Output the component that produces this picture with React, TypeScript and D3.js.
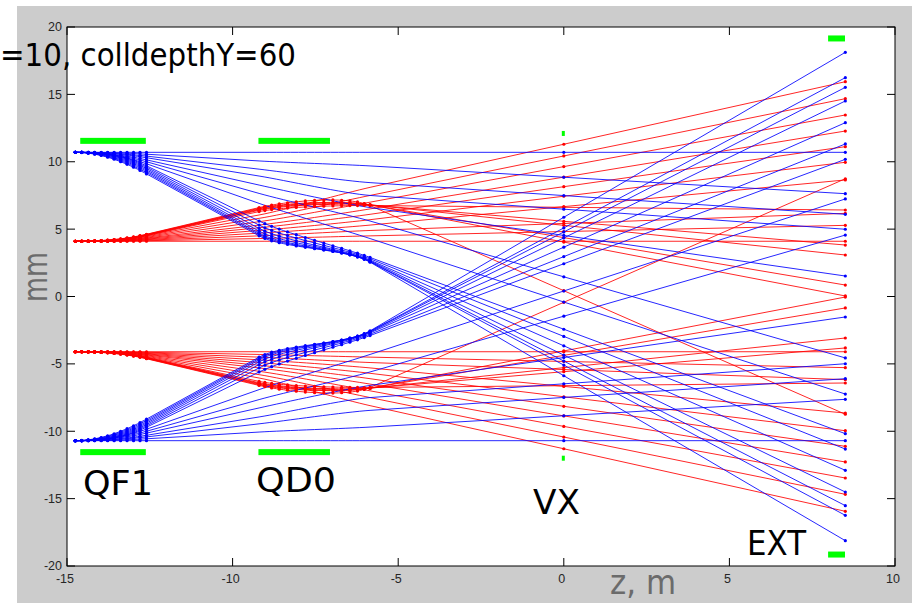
import React from "react";
import * as d3 from "d3";

const W = 912;
const H = 603;

// beamline positions (m)
const zStart = -14.75;
const zQF1out = -12.6;
const zQD0in = -9.2;
const zQD0out = -5.85;
const zVX = 0;
const zEXT = 8.5;

const xTicks = [-15, -10, -5, 0, 5, 10];
const yTicks = [-20, -15, -10, -5, 0, 5, 10, 15, 20];

const blueStart = 10.7;
const redStart = 4.1;

// blue rays starting at +10.7 mm: y (mm) at QF1 exit, QD0 entry, QD0 exit, VX, EXT
const blueUpQF1 = [10.7, 10.56, 10.42, 10.3, 10.14, 10.0, 9.85, 9.7, 9.6, 9.5, 9.4, 9.3, 9.2, 9.1];
const blueUpQD0in = [10.7, 10.06, 9.45, 8.94, 8.27, 7.65, 6.91, 5.6, 5.3, 5.05, 4.85, 4.7, 4.6, 4.5];
const blueUpQD0out = [10.7, 9.69, 8.45, 7.5, 6.6, 5.6, 4.3, 2.9, 2.8, 2.7, 2.65, 2.6, 2.58, 2.55];
const blueUpVX = [10.7, 8.85, 7.49, 6.48, 4.53, 1.46, -0.41, -2.43, -2.96, -3.66, -4.35, -4.79, -5.09, -5.88];
const blueUpEXT = [10.7, 7.63, 6.1, 4.99, 1.52, -4.56, -7.24, -10.18, -11.32, -12.9, -14.51, -15.52, -16.24, -18.12];

// blue rays starting at -10.7 mm
const blueLoQF1 = [-10.7, -10.56, -10.42, -10.3, -10.14, -10.0, -9.85, -9.7, -9.6, -9.5, -9.4, -9.3, -9.2, -9.1];
const blueLoQD0in = [-10.7, -10.06, -9.45, -8.94, -8.27, -7.65, -6.91, -5.6, -5.3, -5.05, -4.85, -4.7, -4.6, -4.5];
const blueLoQD0out = [-10.7, -9.69, -8.45, -7.5, -6.6, -5.6, -4.3, -2.9, -2.8, -2.7, -2.65, -2.6, -2.58, -2.55];
const blueLoVX = [-10.7, -8.85, -7.49, -6.48, -4.53, -1.46, 0.41, 2.43, 2.96, 3.66, 4.35, 4.79, 5.09, 5.88];
const blueLoEXT = [-10.7, -7.63, -6.1, -4.99, -1.52, 4.56, 7.24, 10.18, 11.32, 12.9, 14.51, 15.52, 16.24, 18.12];

// red rays starting at +4.1 mm
const redUpQF1 = [4.1, 4.14, 4.18, 4.22, 4.26, 4.3, 4.34, 4.39, 4.44, 4.49, 4.52, 4.54, 4.56, 4.58, 4.6, 4.62];
const redUpQD0in = [4.1, 4.3, 4.5, 4.7, 4.9, 5.1, 5.3, 5.55, 5.8, 6.05, 6.3, 6.4, 6.45, 6.5, 6.55, 6.6];
const redUpQD0out = [4.1, 4.5, 4.9, 5.3, 5.7, 6.1, 6.5, 7.0, 7.5, 8.1, 6.75, 6.8, 6.8, 6.8, 6.8, 6.75];
const redUpVX = [4.1, 4.82, 5.42, 6.67, 7.44, 8.15, 8.86, 9.64, 10.43, 11.3, 6.62, 5.58, 5.28, 4.37, 4.04, 0.43];
const redUpEXT = [4.1, 5.28, 6.17, 8.65, 9.96, 11.12, 12.28, 13.47, 14.68, 15.94, 6.42, 3.82, 3.08, 0.85, 0.04, -8.74];

// red rays starting at -4.1 mm
const redLoQF1 = [-4.1, -4.14, -4.18, -4.22, -4.26, -4.3, -4.34, -4.39, -4.44, -4.49, -4.52, -4.54, -4.56, -4.58, -4.6, -4.62];
const redLoQD0in = [-4.1, -4.3, -4.5, -4.7, -4.9, -5.1, -5.3, -5.55, -5.8, -6.05, -6.3, -6.4, -6.45, -6.5, -6.55, -6.6];
const redLoQD0out = [-4.1, -4.5, -4.9, -5.3, -5.7, -6.1, -6.5, -7.0, -7.5, -8.1, -6.75, -6.8, -6.8, -6.8, -6.8, -6.75];
const redLoVX = [-4.1, -4.82, -5.42, -6.67, -7.44, -8.15, -8.86, -9.64, -10.43, -11.3, -6.62, -5.58, -5.28, -4.37, -4.04, -0.43];
const redLoEXT = [-4.1, -5.28, -6.17, -8.65, -9.96, -11.12, -12.28, -13.47, -14.68, -15.94, -6.42, -3.82, -3.08, -0.85, -0.04, 8.74];

// rays (by index) whose tracking points through QD0 are shown
const blueQD0MarkFrom = 7;
const redQD0MarkFrom = 10;

// green bars: z range, y, height px
const magnetBars = [
  { z0: -14.6, z1: -12.62, y: 11.55, h: 6 },
  { z0: -14.6, z1: -12.62, y: -11.55, h: 6 },
  { z0: -9.22, z1: -7.06, y: 11.55, h: 6 },
  { z0: -9.22, z1: -7.06, y: -11.55, h: 6 },
  { z0: -0.06, z1: 0.03, y: 12.1, h: 5 },
  { z0: -0.06, z1: 0.03, y: -12.0, h: 5 },
  { z0: 7.98, z1: 8.49, y: 19.15, h: 6 },
  { z0: 7.98, z1: 8.49, y: -19.15, h: 6 },
];

const labels = [
  { text: "QF1", x: 83, y: 495, len: 70 },
  { text: "QD0", x: 256, y: 492, len: 80 },
  { text: "VX", x: 533, y: 514, len: 47 },
  { text: "EXT", x: 747, y: 555, len: 59 },
];

const x = d3.scaleLinear().domain([-15, 10]).range([67, 895]);
const y = d3.scaleLinear().domain([-20, 20]).range([566, 27]);

type Pt = [number, number];

function cubicAt(p: Pt[], t: number): Pt {
  const u = 1 - t;
  const a = u * u * u, b = 3 * u * u * t, c = 3 * u * t * t, d = t * t * t;
  return [
    a * p[0][0] + b * p[1][0] + c * p[2][0] + d * p[3][0],
    a * p[0][1] + b * p[1][1] + c * p[2][1] + d * p[3][1],
  ];
}

function buildRay(y0: number, yA: number, yB: number, yC: number, yV: number, yE: number, qd0Marks: boolean) {
  const s1 = (yB - yA) / (zQD0in - zQF1out);
  const s2 = (yV - yC) / (zVX - zQD0out);
  const L1 = zQF1out - zStart;
  const L2 = zQD0out - zQD0in;
  const h2 = L2 * 0.22;
  const P = (z: number, v: number): Pt => [x(z), y(v)];
  const c1: Pt[] = [
    P(zStart, y0),
    P(zStart + L1 / 3, y0),
    P(zQF1out - L1 / 3, yA - (s1 * L1) / 3),
    P(zQF1out, yA),
  ];
  const c2: Pt[] = [
    P(zQD0in, yB),
    P(zQD0in + h2, yB + s1 * h2),
    P(zQD0out - h2, yC - s2 * h2),
    P(zQD0out, yC),
  ];
  const p = d3.path();
  p.moveTo(c1[0][0], c1[0][1]);
  p.bezierCurveTo(c1[1][0], c1[1][1], c1[2][0], c1[2][1], c1[3][0], c1[3][1]);
  p.lineTo(c2[0][0], c2[0][1]);
  p.bezierCurveTo(c2[1][0], c2[1][1], c2[2][0], c2[2][1], c2[3][0], c2[3][1]);
  const v = P(zVX, yV);
  const e = P(zEXT, yE);
  p.lineTo(v[0], v[1]);
  p.lineTo(e[0], e[1]);
  const markers: Pt[] = [];
  const n1 = 11;
  for (let i = 0; i <= n1; i++) markers.push(cubicAt(c1, i / n1));
  if (qd0Marks) {
    const n2 = 14;
    for (let i = 0; i <= n2; i++) markers.push(cubicAt(c2, i / n2));
  }
  markers.push(v, e);
  return { d: p.toString(), markers };
}

function group(y0: number, a: number[], b: number[], c: number[], v: number[], e: number[], markFrom: number) {
  return a.map((_, i) => buildRay(y0, a[i], b[i], c[i], v[i], e[i], i >= markFrom));
}

const groups = [
  { color: "#ff0000", rays: group(redStart, redUpQF1, redUpQD0in, redUpQD0out, redUpVX, redUpEXT, redQD0MarkFrom) },
  { color: "#ff0000", rays: group(-redStart, redLoQF1, redLoQD0in, redLoQD0out, redLoVX, redLoEXT, redQD0MarkFrom) },
  { color: "#0000ff", rays: group(blueStart, blueUpQF1, blueUpQD0in, blueUpQD0out, blueUpVX, blueUpEXT, blueQD0MarkFrom) },
  { color: "#0000ff", rays: group(-blueStart, blueLoQF1, blueLoQD0in, blueLoQD0out, blueLoVX, blueLoEXT, blueQD0MarkFrom) },
];

export default function App() {
  const [x0, x1] = x.range();
  const [yb, yt] = y.range();
  const tick = 8;
  return (
    <svg width={W} height={H} style={{ position: "absolute", left: 0, top: 0, display: "block" }}>
      <rect x={0} y={0} width={W} height={H} fill="#ffffff" />
      <rect x={17} y={6} width={W - 17} height={H - 6} fill="#cccccc" />
      <defs>
        <clipPath id="plotclip">
          <rect x={x0} y={yt} width={x1 - x0} height={yb - yt} />
        </clipPath>
      </defs>
      <rect x={x0} y={yt} width={x1 - x0} height={yb - yt} fill="#ffffff" />
      <g clipPath="url(#plotclip)">
        {groups.map((g, gi) => (
          <g key={gi}>
            {g.rays.map((r, ri) => (
              <path key={ri} d={r.d} fill="none" stroke={g.color} strokeWidth={1} strokeOpacity={0.85} />
            ))}
          </g>
        ))}
        {groups.map((g, gi) => (
          <g key={"m" + gi} fill={g.color}>
            {g.rays.map((r, ri) =>
              r.markers.map((m, mi) => <circle key={ri + "-" + mi} cx={m[0]} cy={m[1]} r={1.6} />)
            )}
          </g>
        ))}
        {magnetBars.map((b, i) => {
          const w = Math.max(3, x(b.z1) - x(b.z0));
          return <rect key={i} x={x(b.z0)} y={y(b.y) - b.h / 2} width={w} height={b.h} fill="#00ff00" />;
        })}
      </g>
      <rect x={x0} y={yt} width={x1 - x0} height={yb - yt} fill="none" stroke="#000" strokeWidth={1} />
      {xTicks.map((t) => (
        <g key={"xt" + t}>
          <line x1={x(t)} x2={x(t)} y1={yb} y2={yb - tick} stroke="#000" />
          <line x1={x(t)} x2={x(t)} y1={yt} y2={yt + tick} stroke="#000" />
          <text x={x(t) - 2} y={583} textAnchor="middle" fontFamily="Liberation Sans, Arial, sans-serif" fontSize={12.5} fill="#262626">
            {t}
          </text>
        </g>
      ))}
      {yTicks.map((t) => (
        <g key={"yt" + t}>
          <line x1={x0} x2={x0 + tick} y1={y(t)} y2={y(t)} stroke="#000" />
          <line x1={x1} x2={x1 - tick} y1={y(t)} y2={y(t)} stroke="#000" />
          <text x={62} y={y(t)} dy="0.35em" textAnchor="end" fontFamily="Liberation Sans, Arial, sans-serif" fontSize={12.5} fill="#262626">
            {t}
          </text>
        </g>
      ))}
      {labels.map((l) => (
        <text key={l.text} x={l.x} y={l.y} fontFamily="DejaVu Sans, sans-serif" fontSize={33} fill="#000" textLength={l.len} lengthAdjust="spacingAndGlyphs">
          {l.text}
        </text>
      ))}
      <text x={610} y={594} fontFamily="DejaVu Sans, sans-serif" fontSize={33} fill="#6b6b6b" textLength={66} lengthAdjust="spacingAndGlyphs">
        z, m
      </text>
      <text transform="translate(47,277) rotate(-90)" textAnchor="middle" fontFamily="DejaVu Sans, sans-serif" fontSize={33} fill="#6b6b6b" textLength={50} lengthAdjust="spacingAndGlyphs">
        mm
      </text>
      <text x={0} y={66} fontFamily="DejaVu Sans, sans-serif" fontSize={32} fill="#000" textLength={296} lengthAdjust="spacingAndGlyphs">
        =10, colldepthY=60
      </text>
    </svg>
  );
}
